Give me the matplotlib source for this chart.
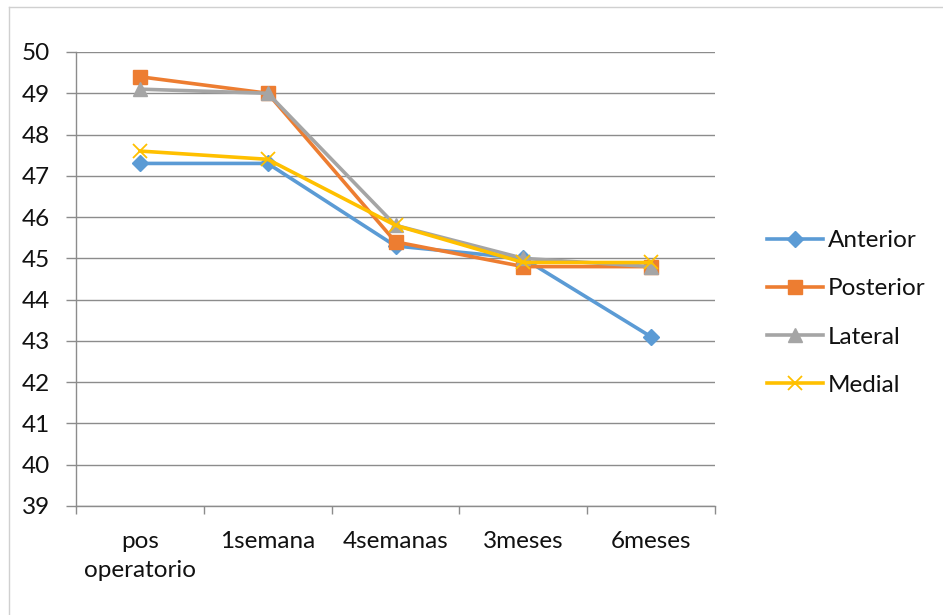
import matplotlib
matplotlib.use("Agg")
import matplotlib.pyplot as plt
from matplotlib.lines import Line2D
from matplotlib.ticker import FixedLocator, NullFormatter

plt.rcParams['font.family'] = ['Lato', 'DejaVu Sans']

categories = ["pos\noperatorio", "1semana", "4semanas", "3meses", "6meses"]
anterior = [47.3, 47.3, 45.3, 45.0, 43.1]
posterior = [49.4, 49.0, 45.4, 44.8, 44.8]
lateral = [49.1, 49.0, 45.8, 45.0, 44.8]
medial = [47.6, 47.4, 45.8, 44.9, 44.9]
y_ticks = list(range(39, 51))

W, H = 943, 615
fig = plt.figure(figsize=(W / 100, H / 100), dpi=100)

# thin frame along the top and left of the chart area
frame_c = "#d0d0d0"
fig.add_artist(Line2D([8.5 / W, 1.0], [1 - 6.5 / H] * 2, transform=fig.transFigure,
                      color=frame_c, linewidth=1.0))
fig.add_artist(Line2D([8.5 / W] * 2, [0.0, 1 - 6.5 / H], transform=fig.transFigure,
                      color=frame_c, linewidth=1.0))

ax = fig.add_axes([76 / W, 1 - 506 / H, (715 - 76) / W, (506 - 52) / H])

x = list(range(len(categories)))
grid_c = "#8c8c8c"
text_c = "#111111"
fs = 17.5
series = [
    ("Anterior", anterior, "#5B9BD5", "D", 8, 1.0),
    ("Posterior", posterior, "#ED7D31", "s", 10, 1.0),
    ("Lateral", lateral, "#A5A5A5", "^", 10, 1.0),
    ("Medial", medial, "#FFC000", "x", 10, 1.3),
]
for name, vals, col, mk, ms, mew in series:
    ax.plot(x, vals, color=col, linewidth=2.6, marker=mk, markersize=ms,
            markeredgewidth=mew, markeredgecolor=col, markerfacecolor=col,
            label=name, zorder=3, solid_joinstyle="round")

ax.set_xlim(-0.5, len(categories) - 0.5)
ax.set_ylim(39, 50)
ax.set_yticks(y_ticks)
ax.grid(axis="y", color=grid_c, linewidth=1.0)
ax.set_axisbelow(True)

for s in ("top", "right"):
    ax.spines[s].set_visible(False)
for s in ("left", "bottom"):
    ax.spines[s].set_color(grid_c)
    ax.spines[s].set_linewidth(1.0)

ax.set_xticks(x)
ax.set_xticklabels(categories, fontsize=fs, color=text_c, linespacing=1.45)
ax.tick_params(axis="x", which="major", length=0, pad=18)
ax.xaxis.set_minor_locator(FixedLocator([i - 0.5 for i in range(len(categories) + 1)]))
ax.xaxis.set_minor_formatter(NullFormatter())
ax.tick_params(axis="x", which="minor", length=6, color=grid_c, width=1.0)
ax.tick_params(axis="y", length=7, color=grid_c, width=1.0, labelsize=fs,
               labelcolor=text_c, pad=11.5)

leg = fig.legend(*ax.get_legend_handles_labels(), loc="center left",
                 bbox_to_anchor=(767 / W, 1 - 313 / H), frameon=False,
                 fontsize=fs, handlelength=2.3, handletextpad=0.2,
                 labelspacing=1.12, borderaxespad=0, borderpad=0)
for t in leg.get_texts():
    t.set_color(text_c)

fig.savefig("out.png", dpi=100, facecolor="white")
